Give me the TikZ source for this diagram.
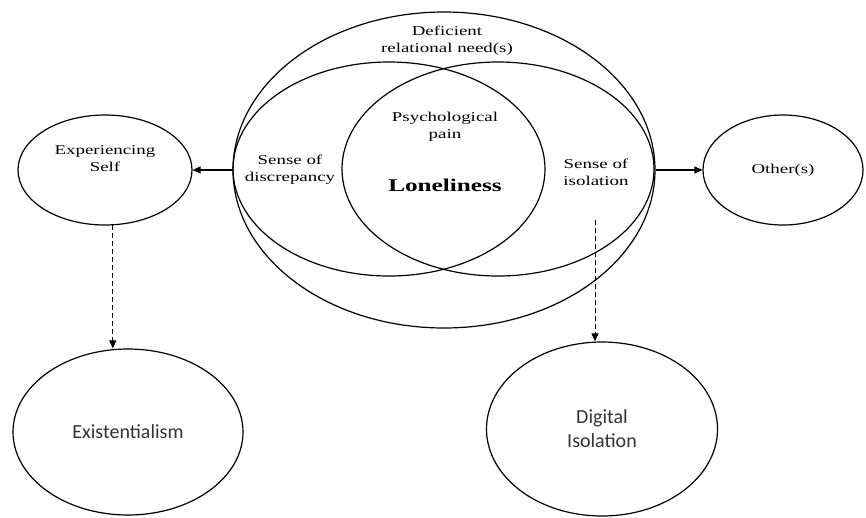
\documentclass[tikz,border=0pt]{standalone}
\usepackage{fontspec}
\usetikzlibrary{shapes.geometric,arrows.meta}
\newfontfamily\serstretch{Liberation Serif}[FakeStretch=1.4]
\newfontfamily\sanscal{Carlito}
\tikzset{
  ell/.style={ellipse, draw, line width=1.2pt, inner sep=0pt},
  sertext/.style={font=\serstretch\fontsize{13.5}{17}\selectfont, text=black, align=center, inner sep=0pt},
  santext/.style={font=\sanscal\fontsize{20}{24}\selectfont, text=black!80, align=center},
  arr/.style={line width=1.2pt, -{Triangle[length=8pt,width=7pt]}},
  darr/.style={line width=0.9pt, dashed, dash pattern=on 5pt off 3pt, -{Triangle[length=8pt,width=7pt]}}
}
\begin{document}
\begin{tikzpicture}[x=1pt,y=-1pt]
\useasboundingbox (0,0) rectangle (866,517);
% Venn
\node[ell, minimum width=422pt, minimum height=316pt] (outer) at (444,170) {};
\node[ell, minimum width=312pt, minimum height=214pt] (leftE) at (389,169) {};
\node[ell, minimum width=312pt, minimum height=214pt] (rightE) at (498,169) {};
\node[sertext] (defic) at (447,41) {Deficient\\relational need(s)};
\node[sertext] (pain) at (445,127) {Psychological\\pain};
\node[sertext] (disc) at (290,170) {Sense of\\discrepancy};
\node[sertext] (isol) at (596,172) {Sense of\\isolation};
\node[sertext, font=\serstretch\bfseries\fontsize{18}{21}\selectfont] (lone) at (445,185) {Loneliness};
% side ellipses
\node[ell, sertext, draw, line width=1.2pt, minimum width=174pt, minimum height=110pt] (self) at (105,170) {Experiencing\\Self\\[6pt]};
\node[ell, sertext, draw, line width=1.2pt, minimum width=160pt, minimum height=110pt] (other) at (783,170) {Other(s)};
\node[ell, santext, draw, line width=1.2pt, minimum width=230pt, minimum height=166pt] (exist) at (128,432) {Existentialism};
\node[ell, santext, draw, line width=1.2pt, minimum width=231pt, minimum height=174pt] (digit) at (602,429) {Digital\\Isolation};
% connectors
\draw[arr] (outer.west) -- (self.east);
\draw[arr] (outer.east) -- (other.west);
\coordinate (selfb) at (self.-82);
\draw[darr] (selfb) -- (selfb |- exist.north);
\coordinate (isob) at (595,220);
\draw[darr] (isob) -- (isob |- digit.north);
\end{tikzpicture}
\end{document}
